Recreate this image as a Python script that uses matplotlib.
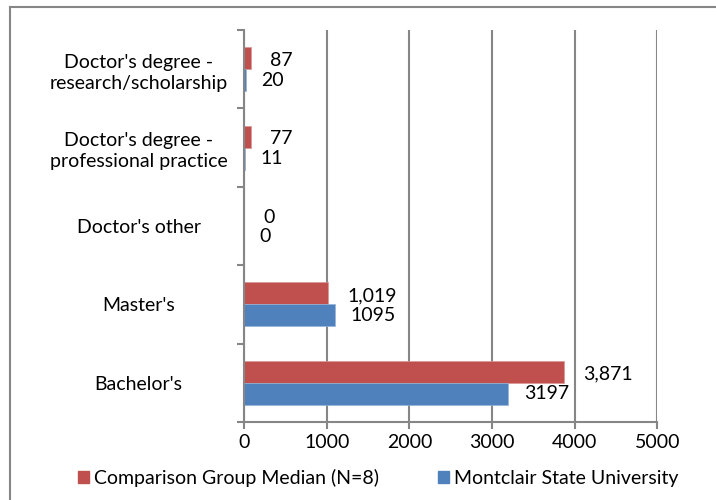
import numpy as np
import matplotlib.pyplot as plt
from matplotlib.patches import Patch
from matplotlib.lines import Line2D

plt.rcParams['font.family'] = ['Lato', 'DejaVu Sans']

categories = ["Bachelor's", "Master's", "Doctor's other",
              "Doctor's degree -\nprofessional practice",
              "Doctor's degree -\nresearch/scholarship"]
comparison = [3871, 1019, 0, 77, 87]
montclair = [3197, 1095, 0, 11, 20]
comparison_labels = ["3,871", "1,019", "0", "77", "87"]
montclair_labels = ["3197", "1095", "0", "11", "20"]

red = '#c0504d'
blue = '#4f81bd'
grid = '#868686'
fs = 14

fig = plt.figure(figsize=(7.16, 5.0), dpi=100)
ax = fig.add_axes([0.341, 0.156, 0.577, 0.784])

y = np.arange(len(categories))
h = 0.28
ax.barh(y + h / 2, comparison, height=h, color=red, edgecolor='#d99694', linewidth=0.5)
ax.barh(y - h / 2, montclair, height=h, color=blue, edgecolor='#95b3d7', linewidth=0.5)

for i in range(len(categories)):
    ax.text(comparison[i] + 230, y[i] + h / 2 - 0.03, comparison_labels[i],
            va='center', ha='left', fontsize=fs)
    ax.text(montclair[i] + 190, y[i] - h / 2, montclair_labels[i],
            va='center', ha='left', fontsize=fs)

ax.set_xlim(0, 5000)
ax.set_ylim(-0.5, len(categories) - 0.5)
ax.set_xticks(np.arange(0, 5001, 1000))
ax.set_yticks(y)
ax.set_yticklabels(categories, fontsize=fs, ha='center', linespacing=1.3)
ax.tick_params(axis='y', length=0, pad=76)
ax.tick_params(axis='x', labelsize=fs, colors=grid, labelcolor='black', length=5, width=1.5)
ax.set_yticks(np.arange(-0.5, len(categories), 1), minor=True)
ax.tick_params(axis='y', which='minor', length=5, width=1.5, color=grid)

ax.grid(axis='x', color=grid, linewidth=1.5)
ax.set_axisbelow(True)
for s in ['top', 'right']:
    ax.spines[s].set_visible(False)
for s in ['left', 'bottom']:
    ax.spines[s].set_color(grid)
    ax.spines[s].set_linewidth(1.5)

handles = [Patch(color=red), Patch(color=blue)]
fig.legend(handles, ['Comparison Group Median (N=8)', 'Montclair State University'],
           loc='center', bbox_to_anchor=(0.528, 0.044), ncol=2, frameon=False,
           fontsize=fs, handlelength=0.6, handleheight=0.6, handletextpad=0.25,
           columnspacing=3.0)

# chart frame (top and left edges visible)
fig.add_artist(Line2D([0.014, 1.0], [0.986, 0.986], color=grid, linewidth=1.5))
fig.add_artist(Line2D([0.014, 0.014], [0.0, 0.986], color=grid, linewidth=1.5))

fig.savefig('out.png', dpi=100)
